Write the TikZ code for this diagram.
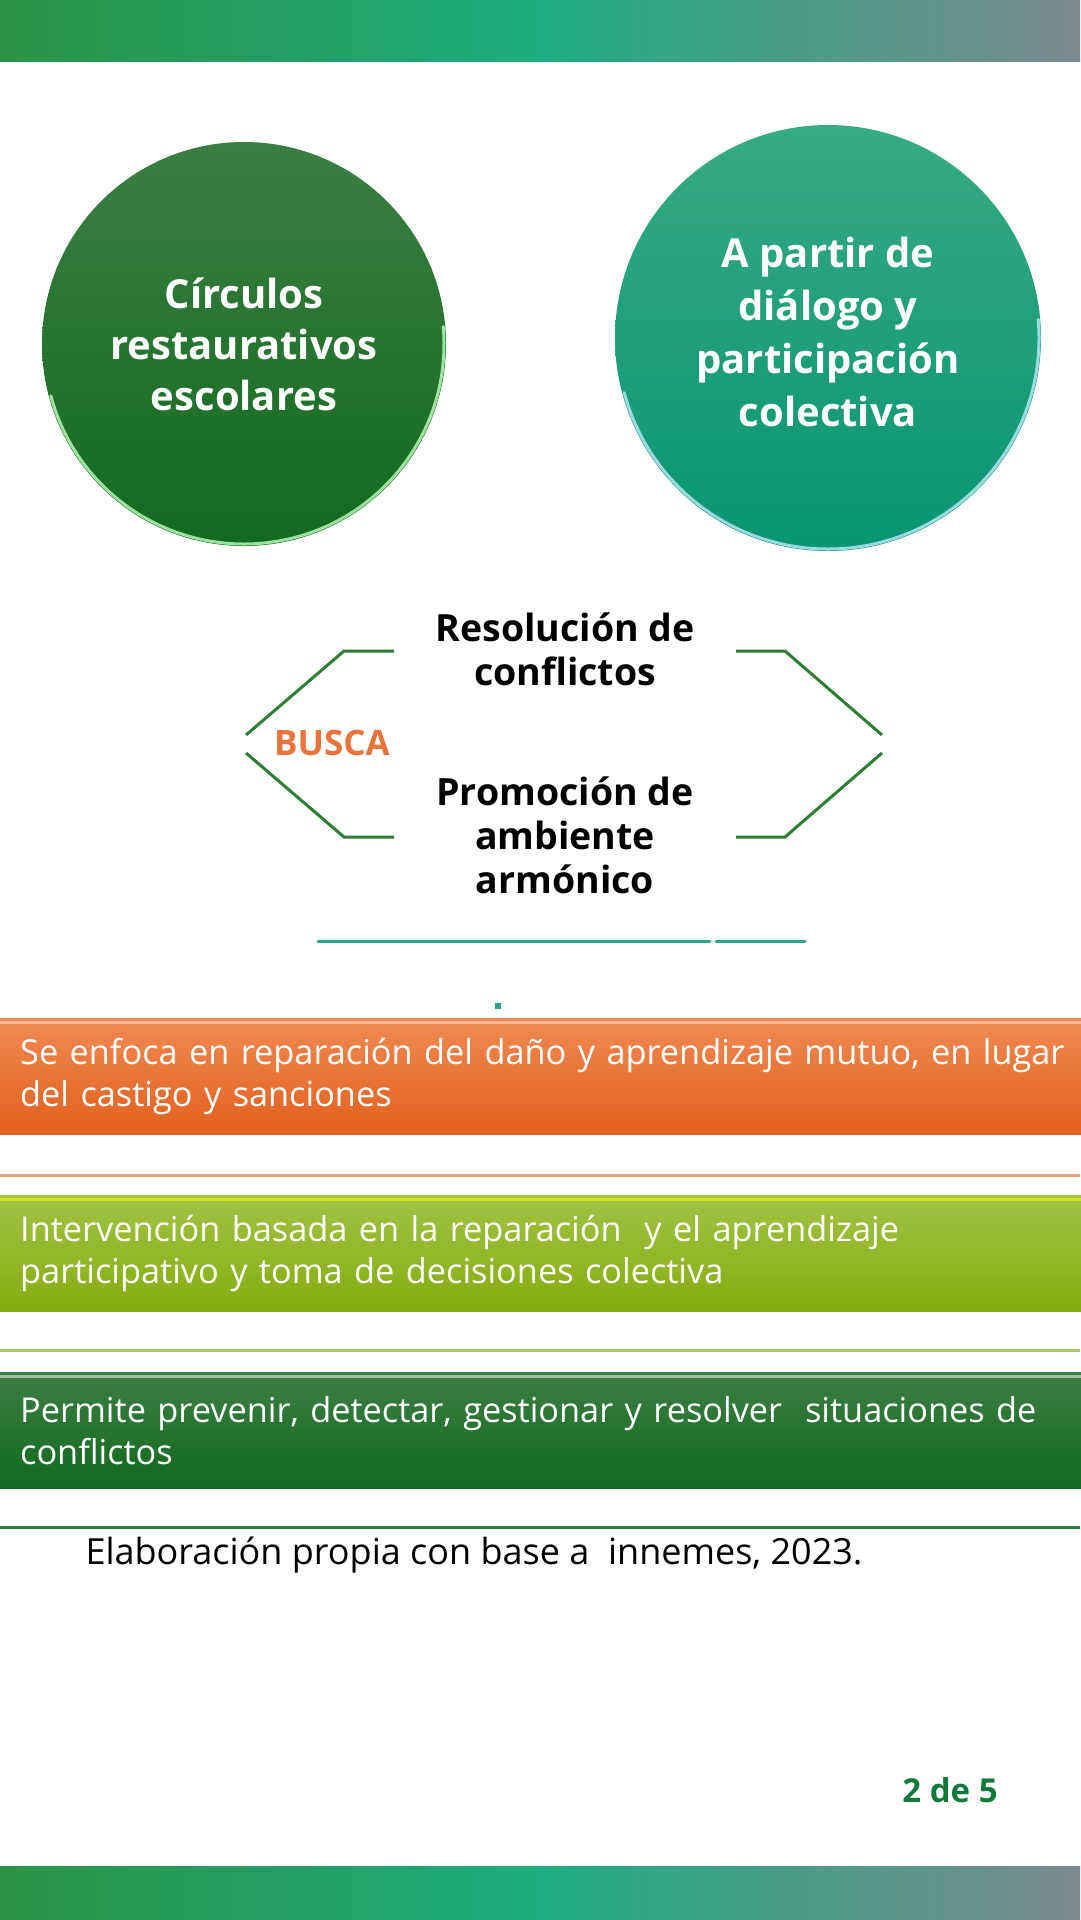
\documentclass[tikz,border=0pt]{standalone}
\usepackage{fontspec}
\setmainfont{Open Sans}
\usepackage{xcolor}
\usetikzlibrary{positioning,calc}
\definecolor{BarGreen}{HTML}{2A9245}
\definecolor{BarTeal}{HTML}{1EAD80}
\definecolor{BarGrey}{HTML}{7A8A8E}
\definecolor{CircDarkTop}{HTML}{3C7E44}
\definecolor{CircDarkBot}{HTML}{126A1E}
\definecolor{CircTealTop}{HTML}{38AA84}
\definecolor{CircTealBot}{HTML}{079570}
\definecolor{BracketGreen}{HTML}{2E7D32}
\definecolor{BuscaOrange}{HTML}{E8743B}
\definecolor{LineTeal}{HTML}{2BA58A}
\definecolor{OrangeTop}{HTML}{F08A52}
\definecolor{OrangeBot}{HTML}{E2601E}
\definecolor{OrangeRule}{HTML}{F0A080}
\definecolor{LimeTop}{HTML}{A2C244}
\definecolor{LimeBot}{HTML}{86AC10}
\definecolor{LimeRule}{HTML}{A8C860}
\definecolor{PageGreen}{HTML}{107A3A}
\tikzset{
  bubble/.style={circle,minimum size=#1,inner sep=0pt,outer sep=0pt,text=white,align=center,
    font=\fontsize{40}{51}\selectfont\bfseries},
  goal/.style={align=center,font=\fontsize{37.5}{44}\selectfont\bfseries},
  band/.style={anchor=north west,minimum width=1080pt,minimum height=116pt,
    text width=1060pt,inner xsep=20pt,align=left,text=white,
    font=\fontsize{34.3}{42}\selectfont},
  bracket/.style={BracketGreen,line width=3pt},
  rim/.style={line width=3pt,line cap=round,opacity=0.8}
}
\begin{document}
\begin{tikzpicture}[x=1pt,y=-1pt]
    \useasboundingbox (0,0) rectangle (1080,1920);
    % top and bottom bars
    \shade[left color=BarGreen,right color=BarTeal] (0,0) rectangle (540,61);
    \shade[left color=BarTeal,right color=BarGrey] (540,0) rectangle (1080,61);
    \shade[left color=BarGreen,right color=BarTeal] (0,1866) rectangle (540,1920);
    \shade[left color=BarTeal,right color=BarGrey] (540,1866) rectangle (1080,1920);
    % circles
    \node[bubble=404pt,top color=CircDarkTop,bottom color=CircDarkBot] (circulos) at (244,344)
      {Círculos\\restaurativos\\escolares};
    \node[bubble=426pt,top color=CircTealTop,bottom color=CircTealBot] (dialogo) at (828,338) {};
    \node[align=center,text=white,font=\fontsize{40}{53}\selectfont\bfseries] (dialogoText)
      at ([yshift=6pt]dialogo.center) {A partir de\\diálogo y\\participación\\colectiva};
    \draw[rim,green!25!white] (circulos.center) ++(-5:200) arc[start angle=-5,end angle=165,radius=200];
    \draw[rim,cyan!25!white] (dialogo.center) ++(-5:211) arc[start angle=-5,end angle=165,radius=211];
    % busca
    \node[goal] (resolucion) at (565,649) {Resolución de\\conflictos};
    \node[goal] (promocion) at (565,835) {Promoción de\\ambiente\\armónico};
    \node[goal,text=BuscaOrange,font=\fontsize{35}{40}\selectfont\bfseries] (busca) at (332,743) {BUSCA};
    \coordinate (LT) at (394,651);
    \coordinate (LB) at (394,837);
    \coordinate (RT) at (736,651);
    \coordinate (RB) at (736,837);
    \draw[bracket] (LT) -- (344,651) -- (246,735);
    \draw[bracket] (246,753) -- (344,837) -- (LB);
    \draw[bracket] (RT) -- (785,651) -- (882,735);
    \draw[bracket] (882,753) -- (785,837) -- (RB);
    \draw[LineTeal,line width=3pt,line cap=round] (318,941) -- (710,941);
    \draw[LineTeal,line width=3pt,line cap=round] (716,941) -- (805,941);
    \fill[LineTeal] (495,1003) rectangle (501,1009);
    % bands
    \node[band,top color=OrangeTop,bottom color=OrangeBot] (enfoque) at (0,1018)
      {Se enfoca en reparación del daño y aprendizaje mutuo, en lugar\\del castigo y sanciones};
    \draw[OrangeRule,line width=3pt] (0,1175) -- (1080,1175);
    \node[band,top color=LimeTop,bottom color=LimeBot] (intervencion) at (0,1195)
      {Intervención basada en la reparación\ \ y el aprendizaje\\participativo y toma de decisiones colectiva};
    \draw[LimeRule,line width=3pt] (0,1350) -- (1080,1350);
    \node[band,top color=CircDarkTop,bottom color=CircDarkBot] (permite) at (0,1372)
      {Permite prevenir, detectar, gestionar y resolver\ \ situaciones de\\conflictos};
    \draw[BracketGreen!80!teal,line width=3pt] (0,1527) -- (1080,1527);
    \foreach \b/\c in {enfoque/OrangeTop!60!white,intervencion/LimeTop!50!yellow,permite/CircDarkTop!50!white}
      \draw[\c,line width=3pt] ([yshift=-4pt]\b.north west) -- ([yshift=-4pt]\b.north east);
    % source and page
    \node[anchor=west,font=\fontsize{36}{40}\selectfont] (fuente) at (82,1555)
      {Elaboración propia con base a\ \ innemes, 2023.};
    \node[text=PageGreen,font=\fontsize{33}{38}\selectfont\bfseries] (pagina) at (950,1790) {2 de 5};
\end{tikzpicture}
\end{document}
